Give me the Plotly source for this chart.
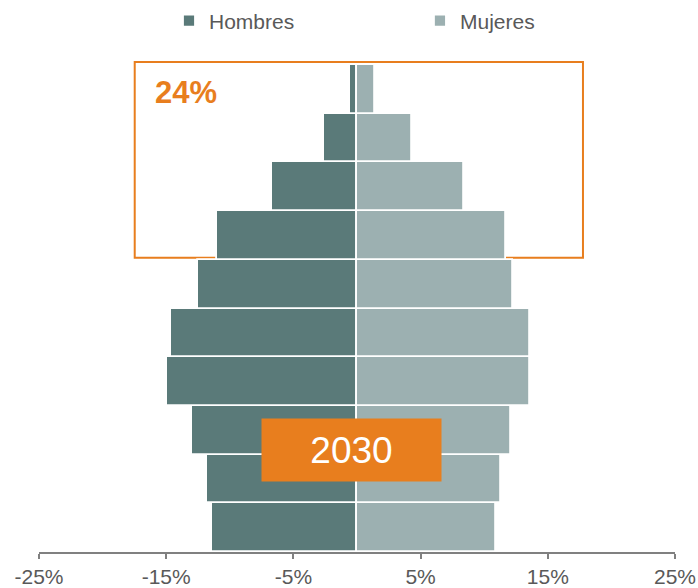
import plotly.graph_objects as go

# Age groups (bottom to top) and population shares (%) for 2030
age_groups = ["0-9", "10-19", "20-29", "30-39", "40-49",
              "50-59", "60-69", "70-79", "80-89", "90+"]
hombres = [11.4, 11.8, 13.0, 14.9, 14.6, 12.5, 11.0, 6.7, 2.6, 0.55]
mujeres = [10.9, 11.3, 12.1, 13.6, 13.6, 12.3, 11.7, 8.4, 4.3, 1.4]

tick_vals = [-25, -15, -5, 5, 15, 25]
tick_text = ["-25%", "-15%", "-5%", "5%", "15%", "25%"]

share_label = "24%"
year_label = "2030"

C_H = "#5A7A79"
C_M = "#9CB0B1"
ORANGE = "#E87E1E"
GREY_TXT = "#595959"
FONT = "Liberation Sans, Arial, sans-serif"

fig = go.Figure()
fig.add_trace(go.Bar(
    y=age_groups, x=[-v for v in hombres], orientation="h", name="Hombres",
    marker=dict(color=C_H, line=dict(color="white", width=1.8)),
    customdata=hombres, hovertemplate="%{y}: %{customdata}%<extra>Hombres</extra>",
    legend="legend",
))
fig.add_trace(go.Bar(
    y=age_groups, x=mujeres, orientation="h", name="Mujeres",
    marker=dict(color=C_M, line=dict(color="white", width=1.8)),
    hovertemplate="%{y}: %{x}%<extra>Mujeres</extra>",
    legend="legend2",
))

fig.update_layout(
    width=698, height=588,
    margin=dict(l=39, r=23, t=65, b=36, autoexpand=False),
    showlegend=True,
    barmode="overlay", bargap=0,
    paper_bgcolor="white", plot_bgcolor="white",
    font=dict(family=FONT, size=21, color=GREY_TXT),
    legend=dict(orientation="h", x=0.2044, y=1.0903, xanchor="left", yanchor="middle",
                font=dict(size=21, color=GREY_TXT), bgcolor="rgba(0,0,0,0)"),
    legend2=dict(orientation="h", x=0.599, y=1.0903, xanchor="left", yanchor="middle",
                 font=dict(size=21, color=GREY_TXT), bgcolor="rgba(0,0,0,0)"),
    xaxis=dict(range=[-25, 25], tickvals=tick_vals, ticktext=tick_text,
               showgrid=False, zeroline=False, showline=True, linecolor="#808080",
               linewidth=2, ticks="outside", ticklen=5, tickwidth=2, tickcolor="#808080",
               tickfont=dict(size=21, color=GREY_TXT), automargin=False, fixedrange=True),
    yaxis=dict(range=[-0.5, 9.5], showticklabels=False, showgrid=False,
               zeroline=False, showline=False, ticks="", automargin=False, fixedrange=True),
    shapes=[dict(type="rect", xref="paper", yref="paper",
                 x0=0.1505, x1=0.8553, y0=0.604, y1=1.0062,
                 line=dict(color=ORANGE, width=2), fillcolor="rgba(0,0,0,0)",
                 layer="below")],
    annotations=[
        dict(text=f"<b>{share_label}</b>", xref="paper", yref="paper",
             x=0.1789, y=0.9436, xanchor="left", yanchor="middle", showarrow=False,
             font=dict(size=31, color=ORANGE, family=FONT)),
        dict(text=year_label, xref="paper", yref="paper",
             x=0.4911, y=0.2103, xanchor="center", yanchor="middle", showarrow=False,
             width=179, height=62, bgcolor=ORANGE, borderpad=0,
             font=dict(size=37, color="white", family=FONT)),
    ],
)

fig.write_html("out.html",
               config={"displayModeBar": False},
               post_script="document.body.style.margin='0';document.body.style.overflow='hidden';")
